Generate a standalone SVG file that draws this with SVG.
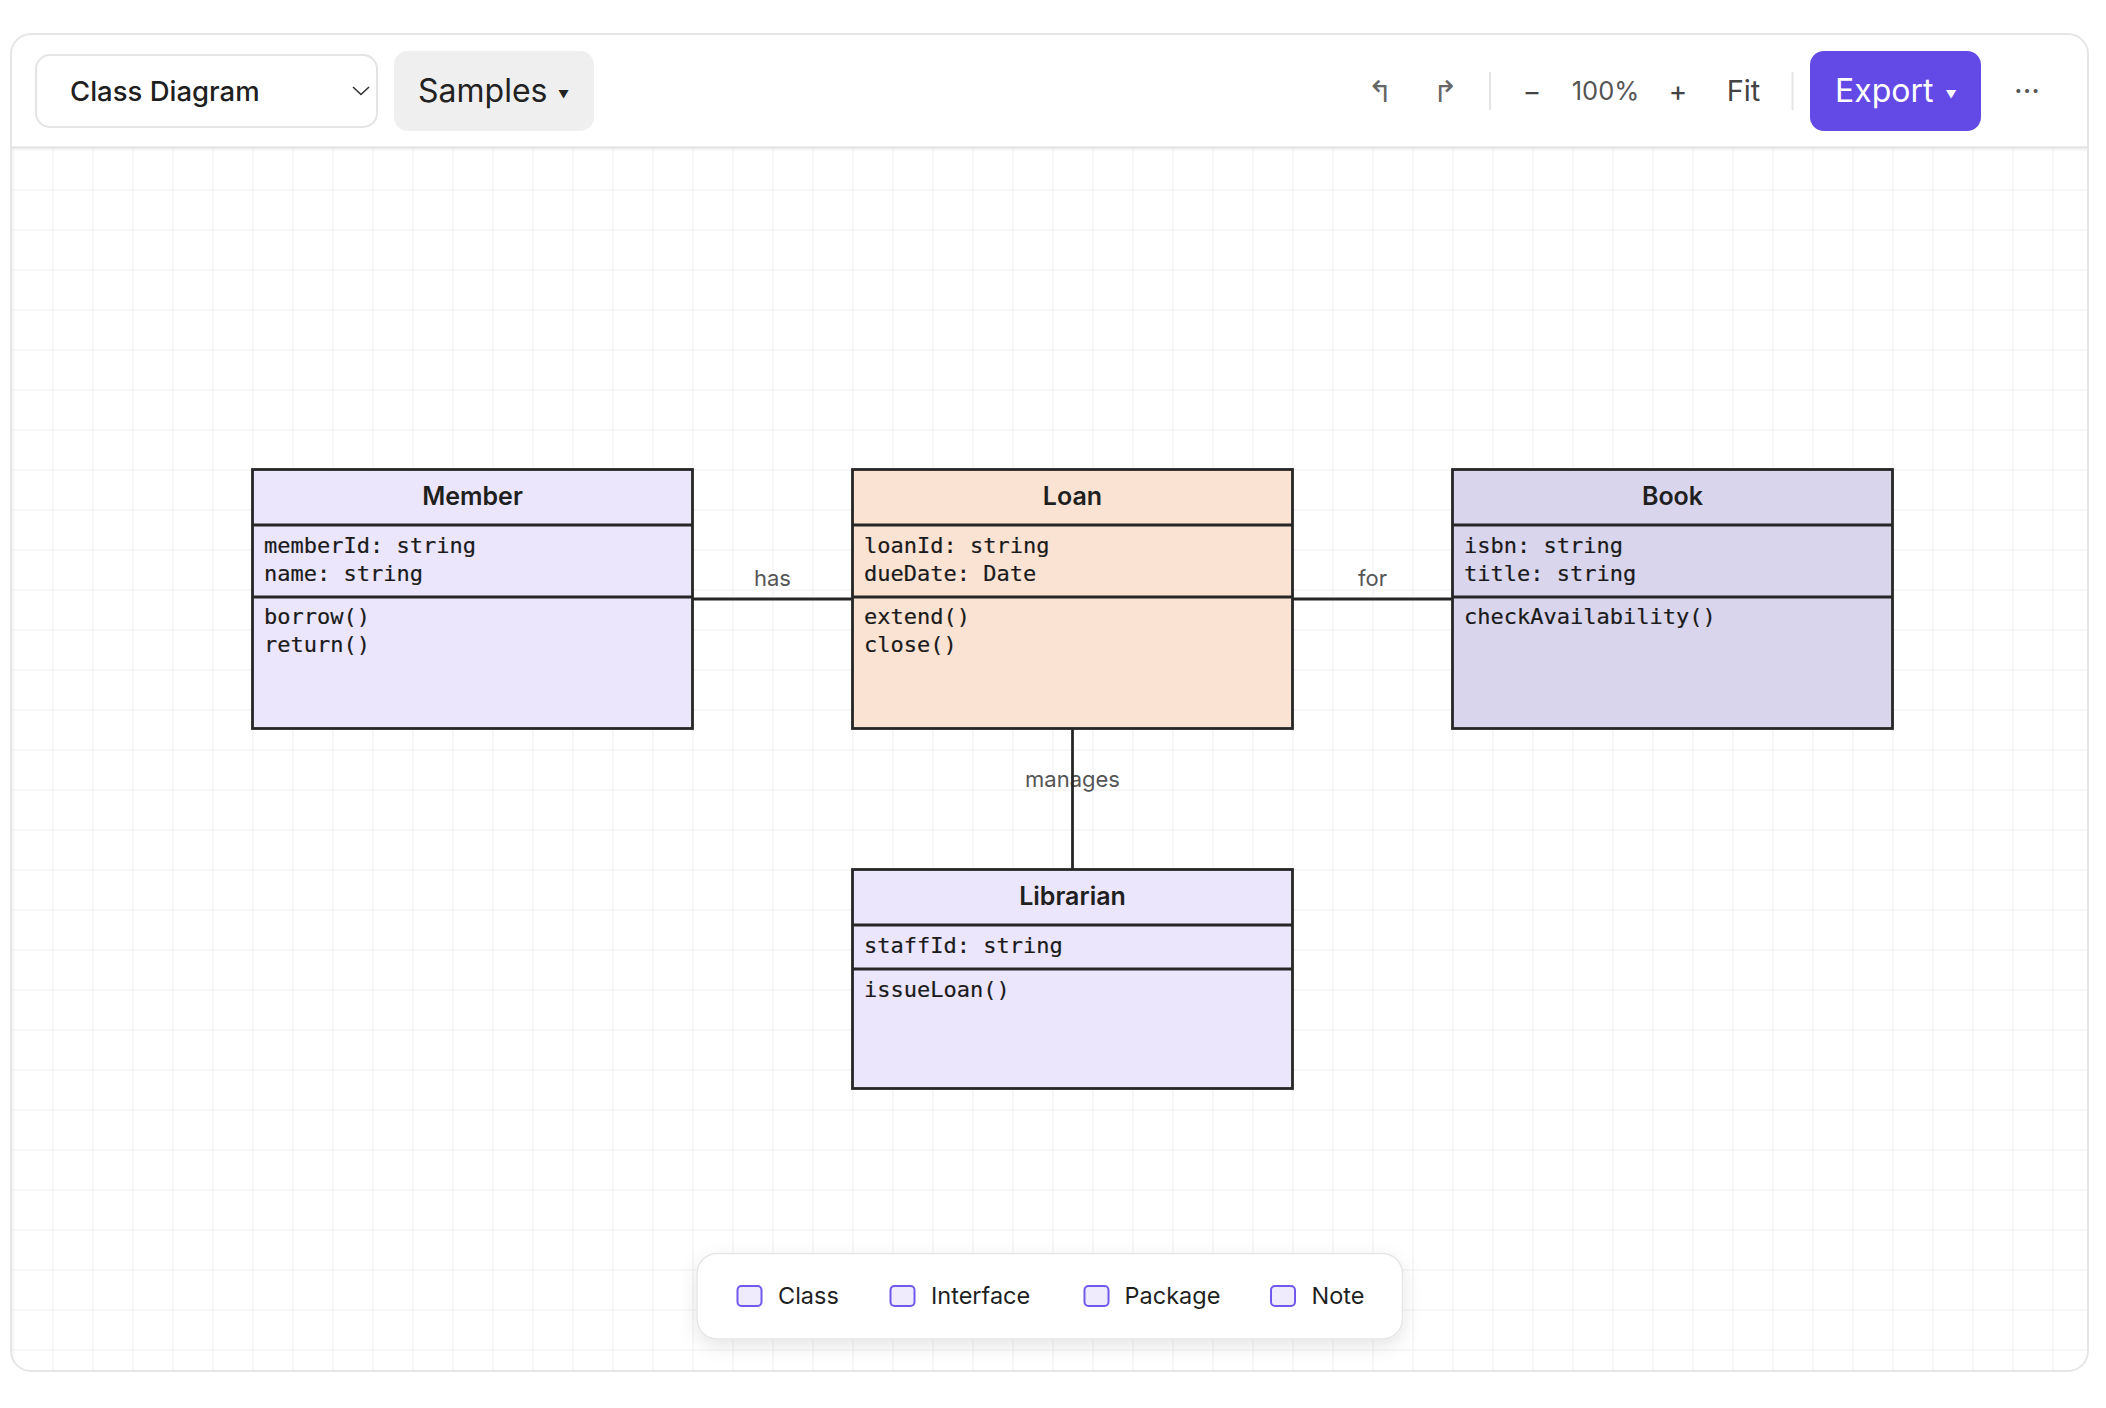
<svg xmlns="http://www.w3.org/2000/svg" width="2106" height="1408" viewBox="0 0 2106 1408">
  <style>
    .ui { font-family: Inter, "Noto Sans", "Liberation Sans", sans-serif; }
    .box { stroke: #262626; stroke-width: 2.8; }
    .div { stroke: #262626; stroke-width: 2.8; }
    .title { font-family: Inter, "Noto Sans", "Liberation Sans", sans-serif; font-weight: 600; font-size: 25px; fill: #1f1f1f; text-anchor: middle; }
    .mono { font-family: "DejaVu Sans Mono", "Liberation Mono", monospace; font-size: 22px; fill: #1a1a1a; stroke: #1a1a1a; stroke-width: 0.2; }
    .edge { stroke: #262626; stroke-width: 2.8; fill: none; }
    .elabel { font-family: Inter, "Noto Sans", "Liberation Sans", sans-serif; font-size: 22px; fill: #555555; text-anchor: middle; }
    .chk { fill: #efebfc; stroke: #7159ee; stroke-width: 2; }
    .legtxt { font-family: Inter, "Noto Sans", "Liberation Sans", sans-serif; font-size: 23.5px; fill: #1f1f1f; }
    .sep { stroke: #e4e4e4; stroke-width: 2; }
  </style>
  <defs>
    <pattern id="grid" patternUnits="userSpaceOnUse" x="12.5" y="149.5" width="40" height="40">
      <path d="M0 0.5 H40 M0.5 0 V40" stroke="#efefef" stroke-width="1" fill="none"/>
    </pattern>
    <clipPath id="canvasClip">
      <path d="M12 148 H2087 V1351 Q2087 1370 2068 1370 H31 Q12 1370 12 1351 Z"/>
    </clipPath>
    <filter id="shadow" x="-10%" y="-40%" width="120%" height="200%">
      <feDropShadow dx="0" dy="6" stdDeviation="9" flood-color="#000000" flood-opacity="0.10"/>
    </filter>
  </defs>

  <rect x="0" y="0" width="2106" height="1408" fill="#ffffff"/>

  <!-- canvas grid -->
  <g id="canvas">
    <rect x="12" y="148" width="2075" height="1222" fill="url(#grid)" clip-path="url(#canvasClip)"/>
  </g>

  <!-- frame and toolbar -->
  <g id="toolbar">
    <rect x="11" y="34" width="2077" height="1337" rx="20" ry="20" fill="none" stroke="#e6e6e6" stroke-width="2"/>
    <line x1="11" y1="147.5" x2="2088" y2="147.5" stroke="#e4e4e4" stroke-width="2.5"/>

    <rect x="36" y="55" width="341" height="72" rx="14" fill="#ffffff" stroke="#e4e4e4" stroke-width="2"/>
    <text x="70" y="101" class="ui" font-size="27.5" font-weight="500" fill="#1f1f1f">Class Diagram</text>
    <path d="M353 87 L361 94.5 L369 87" fill="none" stroke="#333333" stroke-width="1.6"/>

    <rect x="394" y="51" width="200" height="80" rx="14" fill="#efefef"/>
    <text x="418" y="101.7" class="ui" font-size="32" fill="#222222">Samples</text>
    <text x="563.5" y="97.5" class="ui" font-size="11" fill="#222222" text-anchor="middle">▼</text>

    <text x="1380" y="102" font-family="DejaVu Sans, sans-serif" font-size="30" fill="#666666" text-anchor="middle">↰</text>
    <text x="1445" y="102" font-family="DejaVu Sans, sans-serif" font-size="30" fill="#666666" text-anchor="middle">↱</text>
    <line x1="1490" y1="72" x2="1490" y2="110" class="sep"/>
    <text x="1532" y="101" class="ui" font-size="28" fill="#444444" text-anchor="middle">−</text>
    <text x="1605.5" y="100" class="ui" font-size="25.5" fill="#555555" text-anchor="middle">100%</text>
    <text x="1678" y="101" class="ui" font-size="28" fill="#444444" text-anchor="middle">+</text>
    <text x="1743.5" y="100.7" class="ui" font-size="29" fill="#444444" text-anchor="middle">Fit</text>
    <line x1="1792.5" y1="72" x2="1792.5" y2="110" class="sep"/>

    <rect x="1810" y="51" width="171" height="80" rx="14" fill="#634ae6"/>
    <text x="1835" y="101.7" class="ui" font-size="32" fill="#ffffff">Export</text>
    <text x="1951" y="97.5" class="ui" font-size="11" fill="#ffffff" text-anchor="middle">▼</text>

    <text x="2027" y="101" class="ui" font-size="30" fill="#555555" text-anchor="middle">···</text>
  </g>

  <!-- connectors -->
  <g id="connectors">
    <line x1="692.5" y1="599" x2="852.5" y2="599" class="edge"/>
    <text x="772.5" y="586" class="elabel">has</text>
    <line x1="1292.5" y1="599" x2="1452.5" y2="599" class="edge"/>
    <text x="1372.5" y="586" class="elabel">for</text>
    <text x="1072.5" y="786.7" class="elabel">manages</text>
    <line x1="1072.5" y1="728.5" x2="1072.5" y2="869.5" class="edge"/>
  </g>

  <!-- nodes -->
  <g id="node-member">
    <rect x="252.5" y="469.5" width="440" height="259" fill="#ebe6fc" class="box"/>
    <line x1="252.5" y1="525" x2="692.5" y2="525" class="div"/>
    <line x1="252.5" y1="597" x2="692.5" y2="597" class="div"/>
    <text x="472.5" y="505" class="title">Member</text>
    <text x="264" y="552.7" class="mono">memberId: string</text>
    <text x="264" y="580.7" class="mono">name: string</text>
    <text x="264" y="624" class="mono">borrow()</text>
    <text x="264" y="652" class="mono">return()</text>
  </g>

  <g id="node-loan">
    <rect x="852.5" y="469.5" width="440" height="259" fill="#fbe3d4" class="box"/>
    <line x1="852.5" y1="525" x2="1292.5" y2="525" class="div"/>
    <line x1="852.5" y1="597" x2="1292.5" y2="597" class="div"/>
    <text x="1072.5" y="505" class="title">Loan</text>
    <text x="864" y="552.7" class="mono">loanId: string</text>
    <text x="864" y="580.7" class="mono">dueDate: Date</text>
    <text x="864" y="624" class="mono">extend()</text>
    <text x="864" y="652" class="mono">close()</text>
  </g>

  <g id="node-book">
    <rect x="1452.5" y="469.5" width="440" height="259" fill="#d9d5ec" class="box"/>
    <line x1="1452.5" y1="525" x2="1892.5" y2="525" class="div"/>
    <line x1="1452.5" y1="597" x2="1892.5" y2="597" class="div"/>
    <text x="1672.5" y="505" class="title">Book</text>
    <text x="1464" y="552.7" class="mono">isbn: string</text>
    <text x="1464" y="580.7" class="mono">title: string</text>
    <text x="1464" y="624" class="mono">checkAvailability()</text>
  </g>

  <g id="node-librarian">
    <rect x="852.5" y="869.5" width="440" height="219" fill="#ebe6fc" class="box"/>
    <line x1="852.5" y1="925" x2="1292.5" y2="925" class="div"/>
    <line x1="852.5" y1="969" x2="1292.5" y2="969" class="div"/>
    <text x="1072.5" y="905" class="title">Librarian</text>
    <text x="864" y="952.7" class="mono">staffId: string</text>
    <text x="864" y="996.7" class="mono">issueLoan()</text>
  </g>

  <!-- legend -->
  <g id="legend">
    <rect x="697" y="1253.5" width="705.5" height="85.5" rx="20" fill="#ffffff" stroke="#e6e6e6" stroke-width="1.5" filter="url(#shadow)"/>
    <rect x="737.5" y="1286" width="24" height="20" rx="4" class="chk"/>
    <text x="778" y="1304" class="legtxt">Class</text>
    <rect x="890.5" y="1286" width="24" height="20" rx="4" class="chk"/>
    <text x="931" y="1304" class="legtxt">Interface</text>
    <rect x="1084.5" y="1286" width="24" height="20" rx="4" class="chk"/>
    <text x="1124.5" y="1304" class="legtxt">Package</text>
    <rect x="1271" y="1286" width="24" height="20" rx="4" class="chk"/>
    <text x="1311.5" y="1304" class="legtxt">Note</text>
  </g>
</svg>
